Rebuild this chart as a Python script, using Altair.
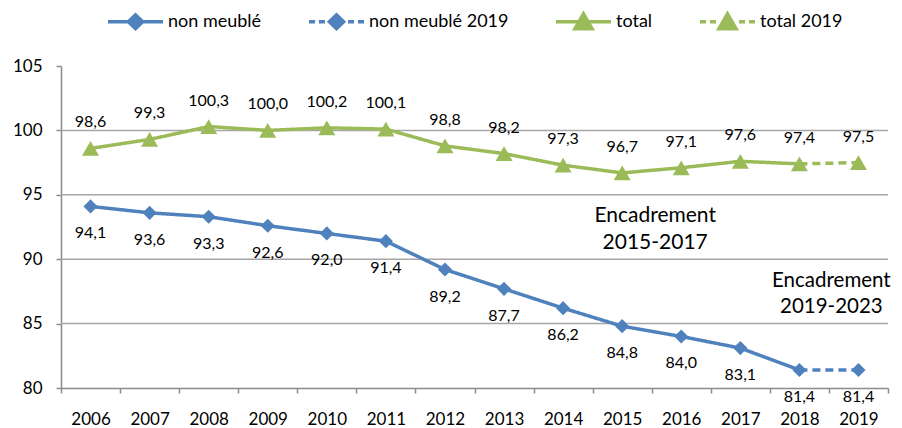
import altair as alt
import pandas as pd

# ---------------- data ----------------
years = [2006, 2007, 2008, 2009, 2010, 2011, 2012, 2013, 2014, 2015, 2016, 2017, 2018, 2019]
non_meuble = [94.1, 93.6, 93.3, 92.6, 92.0, 91.4, 89.2, 87.7, 86.2, 84.8, 84.0, 83.1, 81.4, 81.4]
total = [98.6, 99.3, 100.3, 100.0, 100.2, 100.1, 98.8, 98.2, 97.3, 96.7, 97.1, 97.6, 97.4, 97.5]
series_names = ["non meublé", "total"]
legend_names = ["non meublé", "non meublé 2019", "total", "total 2019"]
y_ticks = [80, 85, 90, 95, 100, 105]
grid_values = [85, 90, 95, 100]
ann1_text = ["Encadrement\n2015-2017"]
ann1_year = ["2015"]
ann1_value = [93.35]
ann2_text = ["Encadrement\n2019-2023"]
ann2_year = ["2018"]
ann2_value = [88.3]

BLUE = "#4F81BD"
GREEN = "#9BBB59"
FONT = "Lato"
year_labels = [str(y) for y in years]

# ---------------- tables ----------------
def fmt(v):
    return f"{v:.1f}".replace(".", ",")

pts = pd.DataFrame(
    {"year": year_labels * 2,
     "value": non_meuble + total,
     "series": [series_names[0]] * len(years) + [series_names[1]] * len(years)}
)
pts["label"] = pts["value"].map(fmt)

rows = []
for name, vals in zip(series_names, [non_meuble, total]):
    for y, v in zip(year_labels, vals):
        if y != "2019":
            rows.append({"year": y, "value": v, "series": name, "seg": "solid"})
        if y in ("2018", "2019"):
            rows.append({"year": y, "value": v, "series": name, "seg": "dash"})
lines = pd.DataFrame(rows)

grid_df = pd.DataFrame({"value": grid_values})
legend_df = pd.DataFrame({"series": legend_names})

# ---------------- encodings ----------------
x_enc = alt.X(
    "year:O",
    scale=alt.Scale(type="band", paddingInner=0, paddingOuter=0, domain=year_labels),
    bandPosition=0.5,
    axis=alt.Axis(title=None, labelAngle=0, tickBand="extent", tickSize=5,
                  labelPadding=18, labelFontSize=17, labelFont=FONT, labelColor="#000",
                  domainColor="#8c8c8c", tickColor="#8c8c8c", domainWidth=1.5, tickWidth=1.5,
                  grid=False),
)
y_scale = alt.Scale(domain=[80, 105], nice=False, zero=False)
y_axis = alt.Axis(title=None, values=y_ticks, tickSize=5, labelPadding=14, labelFontSize=17,
                  labelFont=FONT, labelColor="#000", domainColor="#8c8c8c", tickColor="#8c8c8c",
                  domainWidth=1.5, tickWidth=1.5, grid=False)
y_enc = alt.Y("value:Q", scale=y_scale, axis=y_axis)
color_enc = alt.Color("series:N", scale=alt.Scale(domain=series_names, range=[BLUE, GREEN]), legend=None)

grid = alt.Chart(grid_df).mark_rule(color="#a6a6a6", strokeWidth=1.5).encode(y=y_enc)

line_layer = alt.Chart(lines).mark_line(strokeWidth=3.5).encode(
    x=x_enc, y=y_enc, color=color_enc,
    strokeDash=alt.StrokeDash("seg:N", scale=alt.Scale(domain=["solid", "dash"], range=[[1, 0], [8, 5]]), legend=None),
)

pts_nm = alt.Chart(pts).transform_filter(alt.datum.series == "non meublé")
pts_tot = alt.Chart(pts).transform_filter(alt.datum.series == "total")

diamonds = pts_nm.mark_point(shape="diamond", filled=True, size=200, opacity=1, color=BLUE).encode(x=x_enc, y=y_enc)
triangles = pts_tot.mark_point(shape="triangle-up", filled=True, size=290, opacity=1, color=GREEN).encode(x=x_enc, y=y_enc)

lab_nm = pts_nm.mark_text(dy=27, fontSize=16, font=FONT, color="#000", baseline="middle").encode(
    x=x_enc, y=y_enc, text="label:N")
lab_tot = pts_tot.mark_text(dy=-26, fontSize=16, font=FONT, color="#000", baseline="middle").encode(
    x=x_enc, y=y_enc, text="label:N")

ann1 = alt.Chart(pd.DataFrame({"t": ann1_text, "year": ann1_year, "value": ann1_value})).mark_text(
    fontSize=21, font=FONT, color="#000", lineBreak="\n", lineHeight=27, align="center",
    baseline="middle", dx=33).encode(x=x_enc, y=y_enc, text="t:N")
ann2 = alt.Chart(pd.DataFrame({"t": ann2_text, "year": ann2_year, "value": ann2_value})).mark_text(
    fontSize=20.5, font=FONT, color="#000", lineBreak="\n", lineHeight=26, align="center",
    baseline="middle", dx=32).encode(x=x_enc, y=y_enc, text="t:N")

# legend-only layer (no marks drawn, legend built from explicit scale domains)
P_SOLID_D = "M-1,0L1,0M-0.26,0L0,-0.25L0.26,0L0,0.25Z"
P_DASH_D = ("M-1,0L-0.78,0M-0.64,0L-0.42,0M-0.26,0L0,-0.25L0.26,0L0,0.25Z"
            "M0.42,0L0.64,0M0.78,0L1,0")
P_SOLID_T = "M-1,0L1,0M0,-0.29L0.31,0.25L-0.31,0.25Z"
P_DASH_T = ("M-1,0L-0.78,0M-0.64,0L-0.42,0M0,-0.29L0.31,0.25L-0.31,0.25Z"
            "M0.42,0L0.64,0M0.78,0L1,0")
legend_colors = [BLUE, BLUE, GREEN, GREEN]
leg = alt.Legend(title=None, orient="none", legendX=45, legendY=-74, direction="horizontal",
                 columns=4, symbolSize=3025, symbolStrokeWidth=3.5, labelFontSize=18,
                 labelFont=FONT, labelColor="#000", labelOffset=3, columnPadding=40,
                 padding=0, symbolOpacity=1)
legend_layer = alt.Chart(legend_df).mark_point(filled=True, strokeWidth=3.5, opacity=1).encode(
    fill=alt.Fill("series:N", scale=alt.Scale(domain=legend_names, range=legend_colors), legend=leg),
    stroke=alt.Stroke("series:N", scale=alt.Scale(domain=legend_names, range=legend_colors), legend=leg),
    shape=alt.Shape("series:N", scale=alt.Scale(domain=legend_names, range=[P_SOLID_D, P_DASH_D, P_SOLID_T, P_DASH_T]), legend=leg),
).transform_filter("false")

chart = alt.layer(
    grid, line_layer, diamonds, triangles, lab_nm, lab_tot, ann1, ann2, legend_layer
).properties(
    width=827, height=322,
    padding={"left": 53, "top": 58, "right": 6, "bottom": 40},
    autosize=alt.AutoSizeParams(type="none"),
).resolve_scale(color="independent").configure_view(stroke=None)

chart.save("out.html", embed_options={"renderer": "svg", "actions": False})
